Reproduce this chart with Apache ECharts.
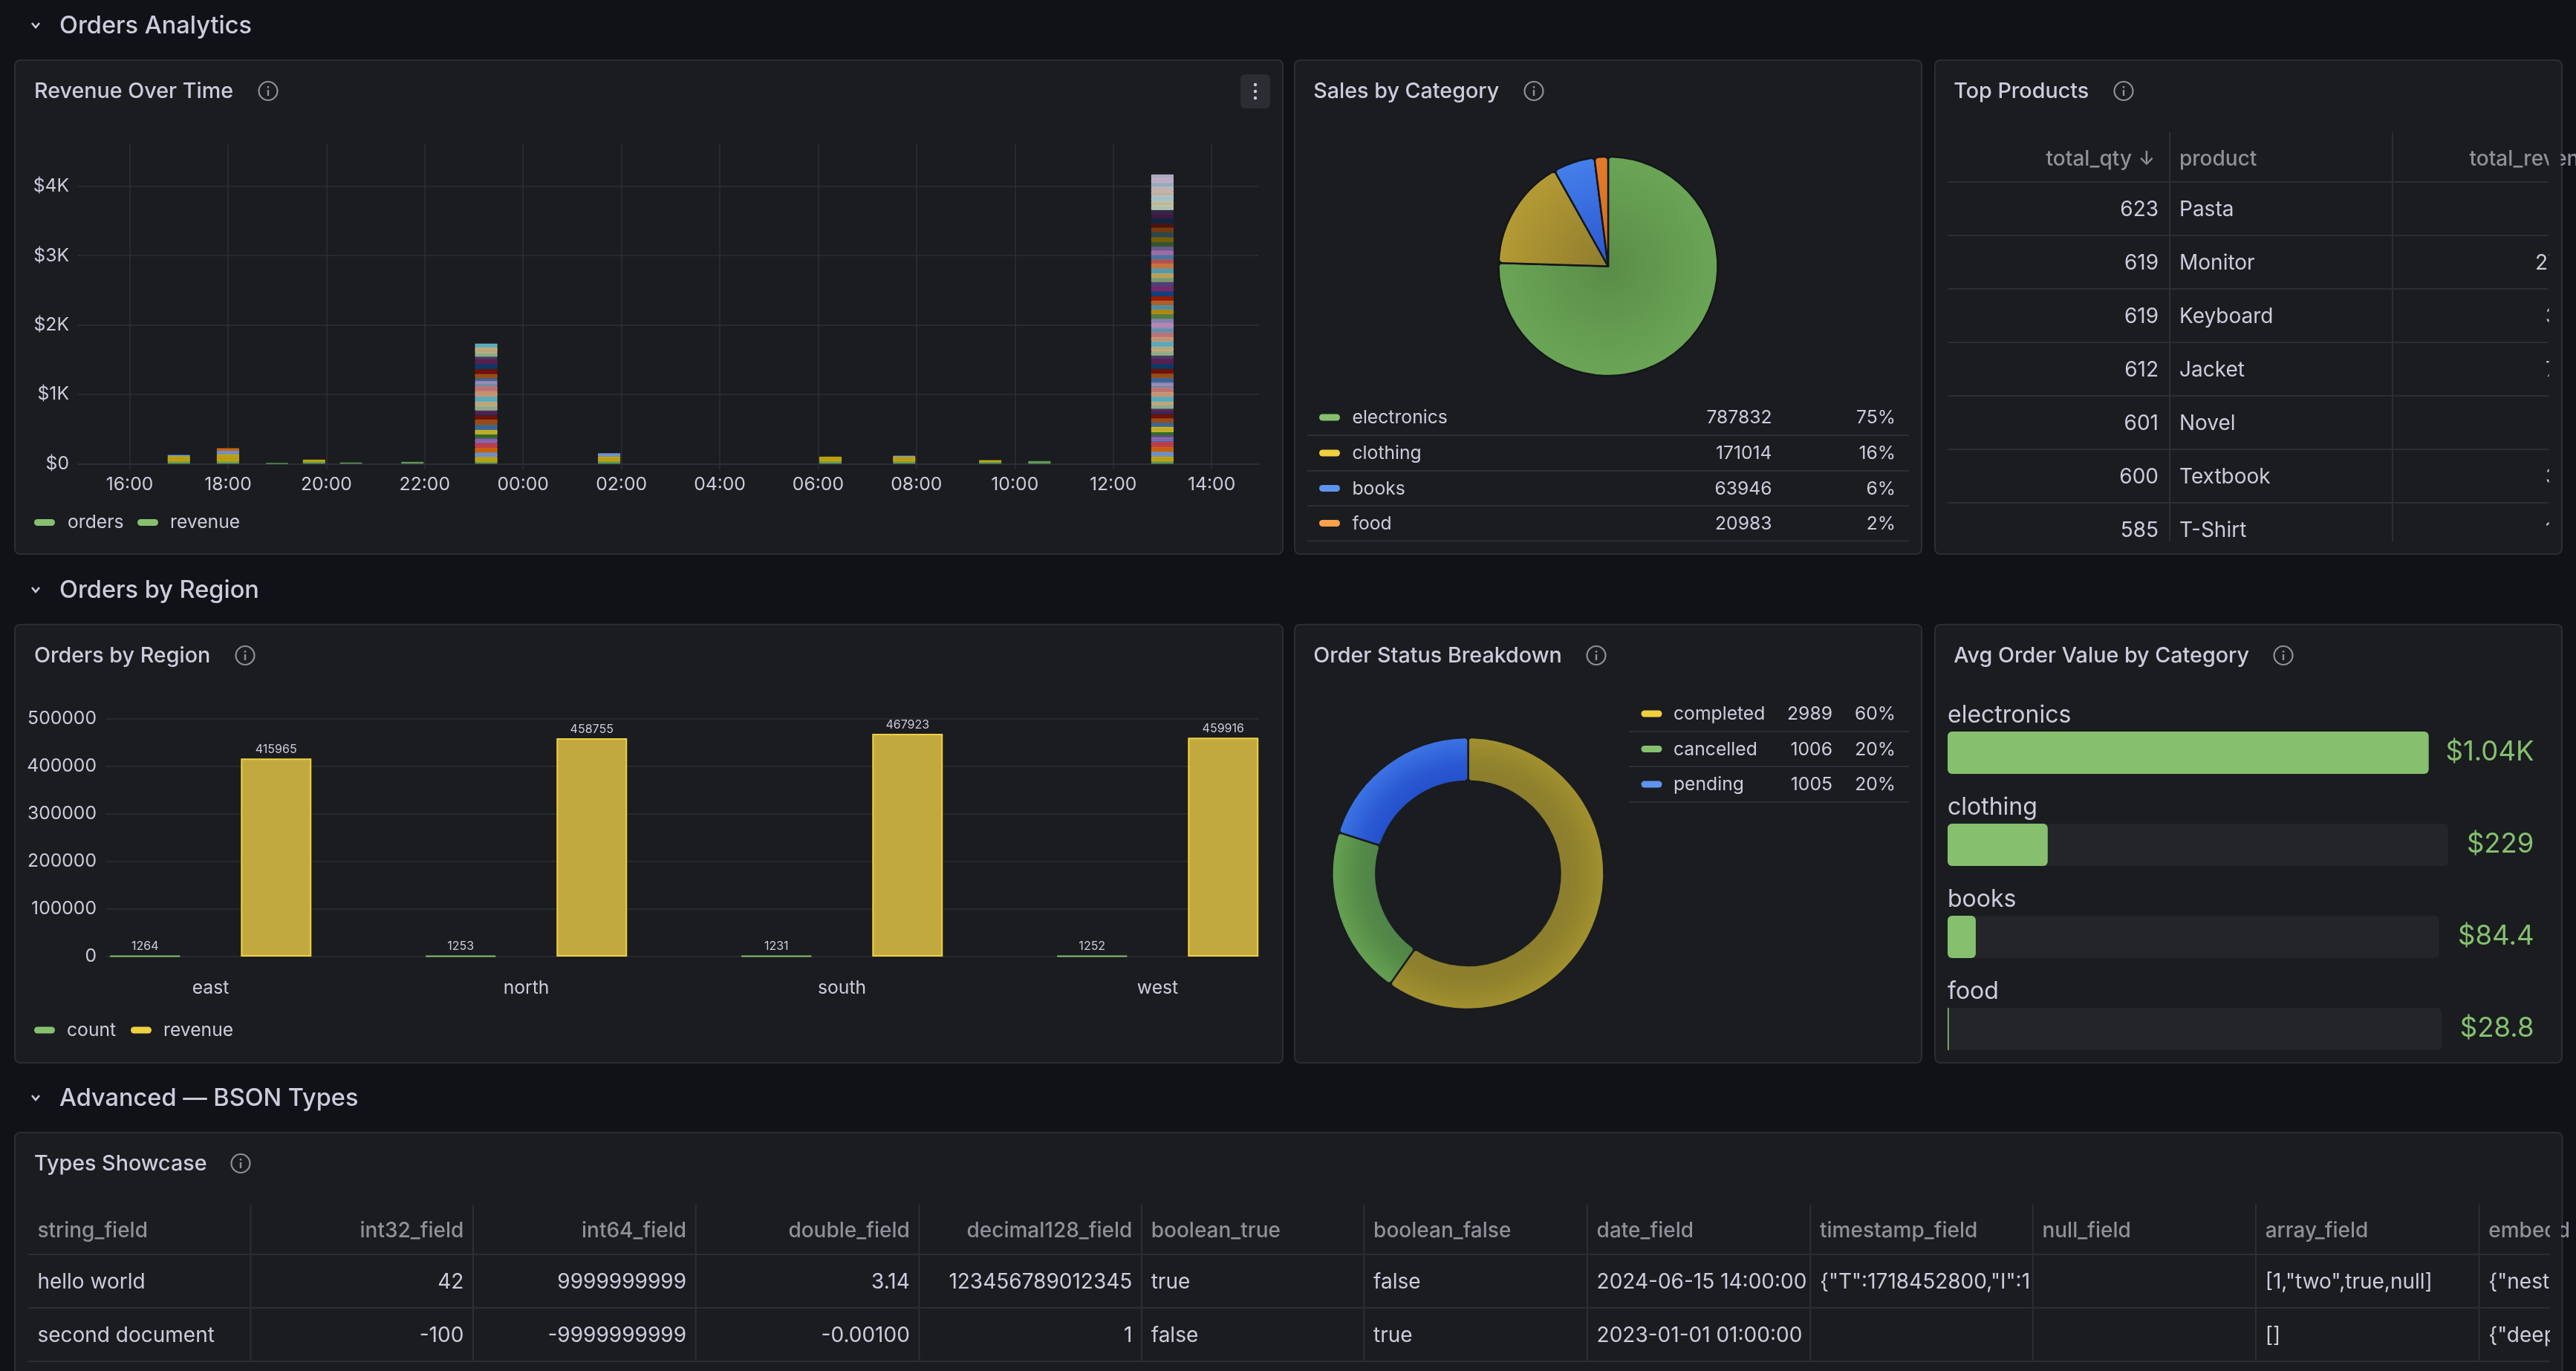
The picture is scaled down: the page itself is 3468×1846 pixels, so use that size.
<!DOCTYPE html>
<html>
<head>
<meta charset="utf-8">
<title>Orders dashboard</title>
<style>
  html, body { margin: 0; padding: 0; background: #111217; }
  #dashboard { width: 3468px; height: 1846px; }
</style>
<script src="https://cdn.jsdelivr.net/npm/echarts@6/dist/echarts.min.js"></script>
</head>
<body>
<div id="dashboard"></div>
<script>
// ---------- Revenue Over Time ----------
const stackPalette = [
  '#73BF69','#F2CC0C','#8AB8FF','#FF780A','#F2495C','#5794F2','#B877D9','#705DA0',
  '#37872D','#FADE2A','#447EBC','#C15C17','#890F02','#0A437C','#6D1F62','#584477',
  '#B7DBAB','#F4D598','#70DBED','#F9BA8F','#F29191','#82B5D8','#E5A8E2','#AEA2E0',
  '#629E51','#E5AC0E','#64B0C8','#E0752D','#BF1B00','#0A50A1','#962D82','#614D93',
  '#9AC48A','#F2C96D','#65C5DB','#F9934E','#EA6460','#5195CE','#D683CE','#806EB7',
  '#3F6833','#967302','#2F575E','#99440A','#58140C','#052B51','#511749','#3F2B5B',
  '#E0F9D7','#FCEACA','#CFFAFF','#F9E2D2','#FCE2DE','#BADFF4','#F9D9F9','#DEDAF7'
];
// Palette slot of each stacked series, bottom of the stack first.
const stackColorSlots = [
  0,1,2,3,4,5,6,7,8,9,10,11,12,13,14,15,16,17,18,19,20,21,22,23,
  10,11,12,13,14,15,16,17,18,19,20,21,22,23,24,25,26,27,28,29,30,31,32,33,
  34,35,36,37,38,39,40,41,42,43,44,45,46,47,48,49,50,51,52,53,54,55
];
const revenueRangeStart = '06-15 14:57';
const revenueRangeEnd = '06-16 14:57';
const revenueTicks = [
  '06-15 16:00','06-15 18:00','06-15 20:00','06-15 22:00','06-16 00:00','06-16 02:00',
  '06-16 04:00','06-16 06:00','06-16 08:00','06-16 10:00','06-16 12:00','06-16 14:00'
];
const revenueAxisTicks = [0, 1000, 2000, 3000, 4000];
const revenueAxisMax = 4607;
const slotTimes = [
  '06-15 17:00','06-15 18:00','06-15 19:00','06-15 19:45','06-15 20:30','06-15 21:45',
  '06-15 23:15','06-16 01:45','06-16 06:15','06-16 07:45','06-16 09:30','06-16 10:30',
  '06-16 13:00'
];
const slotOrderValues = [
  [29,78,18],
  [29,107,50,36],
  [5],
  [27,30],
  [15],
  [25],
  [25,71,64,71,71,14,39,14,54,64,71,79,64,14,39,14,61,64,71,79,79,36,18,18,36,64,71,71,71,36,54,79,54],
  [32,72,45],
  [30,70],
  [30,70,14],
  [25,25],
  [37],
  [32,71,68,71,79,29,32,29,43,79,57,64,64,18,36,21,50,50,71,71,64,29,18,25,
   64,64,68,71,71,50,57,68,75,68,61,68,71,61,68,64,68,64,64,68,71,64,61,64,
   68,71,64,64,61,57,68,68,71,68,64,64,61,64,61,68,71,68,64,61,62,56]
];

// ---------- Sales by Category ----------
const categoryNames = ['electronics','clothing','books','food'];
const categorySales = [787832,171014,63946,20983];
const categoryShares = ['75%','16%','6%','2%'];

// ---------- Top Products ----------
const productQuantities = ['623','619','619','612','601','600','585'];
const productNames = ['Pasta','Monitor','Keyboard','Jacket','Novel','Textbook','T-Shirt'];
const productRevenueHeads = ['','27','3','7','','3','1'];

// ---------- Orders by Region ----------
const regionNames = ['east','north','south','west'];
const regionCounts = [1264,1253,1231,1252];
const regionRevenue = [415965,458755,467923,459916];
const regionAxisMax = 500000;
const regionAxisStep = 100000;

// ---------- Order Status Breakdown ----------
const statusNames = ['completed','cancelled','pending'];
const statusCounts = [2989,1006,1005];
const statusShares = ['60%','20%','20%'];

// ---------- Avg Order Value by Category ----------
const avgValueNames = ['electronics','clothing','books','food'];
const avgValues = [1040,229,84.4,28.8];
const avgValueLabels = ['$1.04K','$229','$84.4','$28.8'];
const avgValueMin = 26.3;
const avgValueMax = 1040;

// ---------- Types Showcase ----------
const typeColumns = ['string_field','int32_field','int64_field','double_field','decimal128_field','boolean_true','boolean_false','date_field','timestamp_field','null_field','array_field','embedd'];
const typeColumnsRightAligned = [false,true,true,true,true,false,false,false,false,false,false,false];
const typeRowHello = ['hello world','42','9999999999','3.14','123456789012345','true','false','2024-06-15 14:00:00','{"T":1718452800,"I":1','','[1,"two",true,null]','{"neste'];
const typeRowSecond = ['second document','-100','-9999999999','-0.00100','1','false','true','2023-01-01 01:00:00','','','[]','{"deep'];

// ---------- Theme ----------
const FONT = 'Inter, "Noto Sans", sans-serif';
const CANVAS_BG = '#111217';
const PANEL_BG = '#1a1c20';
const PANEL_BORDER = '#2b2d32';
const TEXT = '#ccccdc';
const TEXT_DIM = '#8f9098';
const GRID = '#2c2e33';
const GREEN = '#86c06f';
const YELLOW = '#eed040';
const BLUE = '#5f93f0';
const ORANGE = '#f9a04d';

function withAlpha(hex, a) {
  const n = parseInt(hex.slice(1), 16);
  return 'rgba(' + (n >> 16) + ',' + ((n >> 8) & 255) + ',' + (n & 255) + ',' + a + ')';
}
function radial(cx, cy, r, stops) {
  return { type: 'radial', x: cx, y: cy, r: r, global: true,
           colorStops: stops.map(s => ({ offset: s[0], color: s[1] })) };
}
// One category per minute over the day shown, so the axis stays linear in time.
function minuteCategories(first, last) {
  const toMs = s => Date.UTC(2024, +s.slice(0, 2) - 1, +s.slice(3, 5), +s.slice(6, 8), +s.slice(9, 11));
  const pad = n => String(n).padStart(2, '0');
  const out = [];
  for (let t = toMs(first); t <= toMs(last); t += 60000) {
    const d = new Date(t);
    out.push(pad(d.getUTCMonth() + 1) + '-' + pad(d.getUTCDate()) + ' ' + pad(d.getUTCHours()) + ':' + pad(d.getUTCMinutes()));
  }
  return out;
}

// ---------- Static chrome drawn with graphic elements ----------
const chrome = [];
function label(x, y, text, size, fill, align, weight) {
  chrome.push({ type: 'text', silent: true, style: {
    x: x, y: y, text: text, fill: fill || TEXT,
    font: (weight || 400) + ' ' + size + 'px ' + FONT,
    textAlign: align || 'left', textVerticalAlign: 'middle'
  }});
}
function box(x, y, w, h, fill, r) {
  chrome.push({ type: 'rect', silent: true, shape: { x: x, y: y, width: w, height: h, r: r || 0 }, style: { fill: fill } });
}
function hLine(x1, x2, y, width) {
  chrome.push({ type: 'line', silent: true, shape: { x1: x1, y1: y, x2: x2, y2: y },
    style: { stroke: GRID, lineWidth: width || 2 } });
}
function vLine(x, y1, y2) {
  chrome.push({ type: 'line', silent: true, shape: { x1: x, y1: y1, x2: x, y2: y2 },
    style: { stroke: GRID, lineWidth: 2 } });
}
function panel(x, y, w, h, title, iconX) {
  chrome.push({ type: 'rect', silent: true, shape: { x: x, y: y, width: w, height: h, r: 7 },
    style: { fill: PANEL_BG, stroke: PANEL_BORDER, lineWidth: 2 } });
  label(x + (x === 20 ? 26 : 25.2), y + 42, title, 28.7, TEXT, 'left', 500);
  const cy = y + 41.5;
  chrome.push({ type: 'circle', silent: true, shape: { cx: iconX, cy: cy, r: 12.5 },
    style: { fill: 'none', stroke: '#8e8f98', lineWidth: 2.2 } });
  box(iconX - 1.2, cy - 1.5, 2.4, 8, '#8e8f98');
  box(iconX - 1.2, cy - 6.5, 2.4, 2.6, '#8e8f98');
}
function section(y, title) {
  chrome.push({ type: 'polyline', silent: true, shape: { points: [[43, y - 3], [48, y + 3], [53, y - 3]] },
    style: { fill: 'none', stroke: TEXT, lineWidth: 2.6 } });
  label(80, y + 1, title, 32.5, TEXT, 'left', 500);
}
function legendRows(rows, x1, x2, swatchX, nameX, valueX, shareX, rowY, sepY) {
  rows.forEach((row, i) => {
    box(swatchX, rowY[i] - 4.5, 28, 9, row.color, 4.5);
    label(nameX, rowY[i] + 0.8, row.name, 24.7);
    label(valueX, rowY[i] + 0.8, String(row.value), 24.7, TEXT, 'right');
    label(shareX, rowY[i] + 0.8, row.share, 24.7, TEXT, 'right');
    hLine(x1, x2, sepY[i]);
  });
}

box(0, 0, 3468, 1846, CANVAS_BG);

section(34, 'Orders Analytics');
section(794, 'Orders by Region');
section(1478, 'Advanced \u2014 BSON Types');

// Panels
panel(20, 81, 1707, 665, 'Revenue Over Time', 361);
panel(1743, 81, 844, 665, 'Sales by Category', 2065);
panel(2605, 81, 844, 665, 'Top Products', 2859);
panel(20, 841, 1707, 590, 'Orders by Region', 330);
panel(1743, 841, 844, 590, 'Order Status Breakdown', 2149);
panel(2605, 841, 844, 590, 'Avg Order Value by Category', 3074);
panel(20, 1525, 3429.5, 400, 'Types Showcase', 324);

// Panel menu button
box(1670, 100, 40, 46, '#2b2d32', 6);
[114, 123, 132].forEach(y => chrome.push({ type: 'circle', silent: true, shape: { cx: 1690, cy: y, r: 2.2 }, style: { fill: TEXT } }));

// Revenue legend
box(46, 699, 28, 9, GREEN, 4.5);
label(91, 703.5, 'orders', 24.7);
box(185, 699, 28, 9, GREEN, 4.5);
label(229, 703.5, 'revenue', 24.7);

// Region legend
box(46, 1382.5, 28, 9, GREEN, 4.5);
label(90, 1387.5, 'count', 24.7);
box(176, 1382.5, 28, 9, YELLOW, 4.5);
label(220, 1387.5, 'revenue', 24.7);

// Sales legend table
const categoryColors = [GREEN, YELLOW, BLUE, ORANGE];
legendRows(categoryNames.map((n, i) => ({ name: n, value: categorySales[i], share: categoryShares[i], color: categoryColors[i] })),
  1760, 2570, 1776, 1820.5, 2385.5, 2552, [562, 610, 657.5, 704.5], [586, 634, 681, 728.5]);

// Status legend table
const statusColors = [YELLOW, GREEN, BLUE];
legendRows(statusNames.map((n, i) => ({ name: n, value: statusCounts[i], share: statusShares[i], color: statusColors[i] })),
  2193, 2570, 2209.5, 2253, 2467, 2552, [961, 1008.5, 1056], [985, 1032, 1080]);

// Top Products table
const productRowY = [282.5, 354.5, 426.5, 498.5, 570.5, 642.5, 714.5];
label(2870, 214.5, 'total_qty', 28, TEXT_DIM, 'right', 500);
label(2890, 214.5, '\u2193', 26, TEXT_DIM, 'center', 500);
label(2934, 214.5, 'product', 28, TEXT_DIM, 'left', 500);
label(3324.5, 214.5, 'total_revenue', 28, TEXT_DIM, 'left', 500);
[245, 317, 389, 461, 533, 605, 677].forEach(y => hLine(2622, 3431.5, y));
productRowY.forEach((y, i) => {
  label(2906, y, productQuantities[i], 28, TEXT, 'right');
  label(2934, y, productNames[i], 28);
  if (productRevenueHeads[i]) {
    label(i === 1 ? 3413 : 3427, y, productRevenueHeads[i], 28);
  }
});
box(3431.5, 178, 16, 552, PANEL_BG);
vLine(2921, 178, 729);
vLine(3221, 178, 729);

// Avg order value captions
const avgLabelY = [963, 1087, 1211, 1335];
const avgValueY = [1013, 1137, 1261.5, 1385];
avgValueNames.forEach((n, i) => {
  label(2622, avgLabelY[i], n, 32);
  label(3411.5, avgValueY[i], avgValueLabels[i], 36.5, GREEN, 'right');
});

// Types Showcase table
const typeColumnEdges = [37.7, 337.4, 637, 936.7, 1237.5, 1537, 1836.4, 2136.9, 2437.3, 2736.7, 3037, 3337.6, 3638];
const typeHeaderY = 1658;
const typeRows = [typeRowHello, typeRowSecond];
const typeRowY = [1726.5, 1798.5];
typeColumns.forEach((name, c) => {
  const right = typeColumnsRightAligned[c];
  const tx = right ? typeColumnEdges[c + 1] - 12.7 : typeColumnEdges[c] + 12.7;
  const al = right ? 'right' : 'left';
  label(tx, typeHeaderY, name, 28, TEXT_DIM, al, 500);
  typeRows.forEach((row, r) => {
    if (row[c] !== '') label(tx, typeRowY[r], row[c], 28, TEXT, al);
  });
});
box(2736.7, 1692, 14, 66, PANEL_BG);
box(3433, 1622, 15, 214, PANEL_BG);
[1689, 1761, 1833].forEach(y => hLine(37.7, 3433, y));
typeColumnEdges.slice(1, 12).forEach(x => vLine(x, 1622, 1833));

// ---------- Series ----------
const revenueMinutes = minuteCategories(revenueRangeStart, revenueRangeEnd);
const isRevenueTick = (index, value) => revenueTicks.includes(value);

const revenueSeries = stackColorSlots.map((slot, k) => {
  const color = stackPalette[slot];
  const points = [];
  slotOrderValues.forEach((vals, i) => { if (vals[k] !== undefined) points.push([slotTimes[i], vals[k]]); });
  return {
    type: 'bar', stack: 'orders', xAxisIndex: 0, yAxisIndex: 0, barWidth: 30,
    data: points, silent: true,
    itemStyle: { color: withAlpha(color, 0.74), borderColor: withAlpha(color, 0.85), borderWidth: 0.75 }
  };
});

const regionBar = (data, color, fill) => ({
  type: 'bar', xAxisIndex: 2, yAxisIndex: 2, barWidth: 95, barGap: '85.8%',
  data: data, silent: true,
  itemStyle: { color: fill, borderColor: color, borderWidth: 2 },
  label: { show: true, position: 'top', distance: 4, color: TEXT, fontSize: 16, fontFamily: FONT }
});

const gaugeTracks = [
  { top: 985, right: 3269.7 }, { top: 1109, right: 3296 },
  { top: 1233, right: 3283.7 }, { top: 1357, right: 3287 }
];
const gaugeGrids = gaugeTracks.map(t => ({ left: 2622, top: t.top, width: t.right - 2622, height: 57 }));
const gaugeX = gaugeTracks.map((t, i) => ({ type: 'value', gridIndex: 3 + i, min: avgValueMin, max: avgValueMax, show: false }));
const gaugeY = gaugeTracks.map((t, i) => ({ type: 'category', gridIndex: 3 + i, data: [avgValueNames[i]], show: false }));
const gaugeSeries = gaugeTracks.map((t, i) => ({
  type: 'bar', xAxisIndex: 3 + i, yAxisIndex: 3 + i, barWidth: 57,
  data: [avgValues[i]], silent: true, showBackground: true,
  backgroundStyle: { color: '#232529', borderRadius: 6 },
  itemStyle: { color: GREEN, borderRadius: i === 3 ? 0 : 6 }
}));

const PIE_CX = 2165, PIE_CY = 358.5, PIE_R = 147.5;
const pieStyles = [
  radial(PIE_CX, PIE_CY, PIE_R, [[0, '#5a8d47'], [1, '#6aa556']]),
  radial(PIE_CX, PIE_CY, PIE_R, [[0, '#8f7d2e'], [1, '#b49a34']]),
  radial(PIE_CX, PIE_CY, PIE_R, [[0, '#2a55cf'], [1, '#447fea']]),
  radial(PIE_CX, PIE_CY, PIE_R, [[0, '#d06a24'], [1, '#e47a2c']])
];
const DONUT_CX = 1976.5, DONUT_CY = 1176, DONUT_R = 183, DONUT_INNER = 124;
const donutStyles = [
  radial(DONUT_CX, DONUT_CY, DONUT_R, [[0.68, '#8b7e2d'], [0.8, '#8f812d'], [1, '#a2912f']]),
  radial(DONUT_CX, DONUT_CY, DONUT_R, [[0.68, '#50834a'], [0.8, '#548a47'], [1, '#65a152']]),
  radial(DONUT_CX, DONUT_CY, DONUT_R, [[0.68, '#2450cc'], [0.8, '#2a58d2'], [1, '#3c74e4']])
];

const option = {
  animation: false,
  backgroundColor: CANVAS_BG,
  textStyle: { fontFamily: FONT },
  graphic: { z: 0, elements: chrome },
  grid: [
    { left: 105, top: 194, width: 1589, height: 430.3 },
    { left: 142, top: 967.5, width: 1553, height: 320.5 },
    { left: 71, top: 967.5, width: 1700, height: 320.5 }
  ].concat(gaugeGrids),
  xAxis: [
    {
      type: 'category', gridIndex: 0, data: revenueMinutes, boundaryGap: false, z: 1,
      axisLine: { lineStyle: { color: GRID, width: 2 } },
      axisTick: { show: true, length: 8, interval: isRevenueTick, lineStyle: { color: GRID, width: 1.5 } },
      splitLine: { show: true, interval: isRevenueTick, lineStyle: { color: GRID, width: 1.5 } },
      axisLabel: {
        color: TEXT, fontSize: 24.7, margin: 16, interval: isRevenueTick,
        formatter: v => v.slice(6)
      }
    },
    { type: 'category', gridIndex: 1, data: regionNames, show: false },
    {
      type: 'category', gridIndex: 2, data: regionNames, z: 1,
      axisLine: { show: false }, axisTick: { show: false },
      axisLabel: { color: TEXT, fontSize: 24.7, margin: 30 }
    }
  ].concat(gaugeX),
  yAxis: [
    {
      type: 'value', gridIndex: 0, min: 0, max: revenueAxisMax, z: 1,
      axisLine: { show: false }, axisTick: { show: false, customValues: revenueAxisTicks },
      splitLine: { show: true, lineStyle: { color: GRID, width: 1.5 } },
      axisLabel: {
        color: TEXT, fontSize: 24.7, margin: 12, customValues: revenueAxisTicks,
        formatter: v => '$' + (v === 0 ? '0' : (v / 1000) + 'K')
      }
    },
    {
      type: 'value', gridIndex: 1, min: 0, max: regionAxisMax, interval: regionAxisStep, z: 1,
      axisLine: { show: false }, axisTick: { show: false },
      splitLine: { show: true, lineStyle: { color: GRID, width: 1.5 } },
      axisLabel: { color: TEXT, fontSize: 24.7, margin: 12, formatter: v => String(v) }
    },
    { type: 'value', gridIndex: 2, min: 0, max: regionAxisMax, show: false }
  ].concat(gaugeY),
  series: revenueSeries.concat([
    regionBar(regionCounts, GREEN, GREEN),
    regionBar(regionRevenue, YELLOW, '#c2a93f'),
    {
      type: 'pie', center: [PIE_CX, PIE_CY], radius: [0, PIE_R], startAngle: 90, silent: true,
      label: { show: false }, labelLine: { show: false },
      itemStyle: { borderRadius: 5, borderColor: '#14161a', borderWidth: 2.5 },
      data: categoryNames.map((n, i) => ({ name: n, value: categorySales[i], itemStyle: { color: pieStyles[i] } }))
    },
    {
      type: 'pie', center: [DONUT_CX, DONUT_CY], radius: [DONUT_INNER, DONUT_R], startAngle: 90, silent: true,
      label: { show: false }, labelLine: { show: false },
      itemStyle: { borderRadius: 5, borderColor: PANEL_BG, borderWidth: 2.5 },
      data: statusNames.map((n, i) => ({ name: n, value: statusCounts[i], itemStyle: { color: donutStyles[i] } }))
    }
  ]).concat(gaugeSeries)
};

const chart = echarts.init(document.getElementById('dashboard'), null, { width: 3468, height: 1846 });
chart.setOption(option);
</script>
</body>
</html>
